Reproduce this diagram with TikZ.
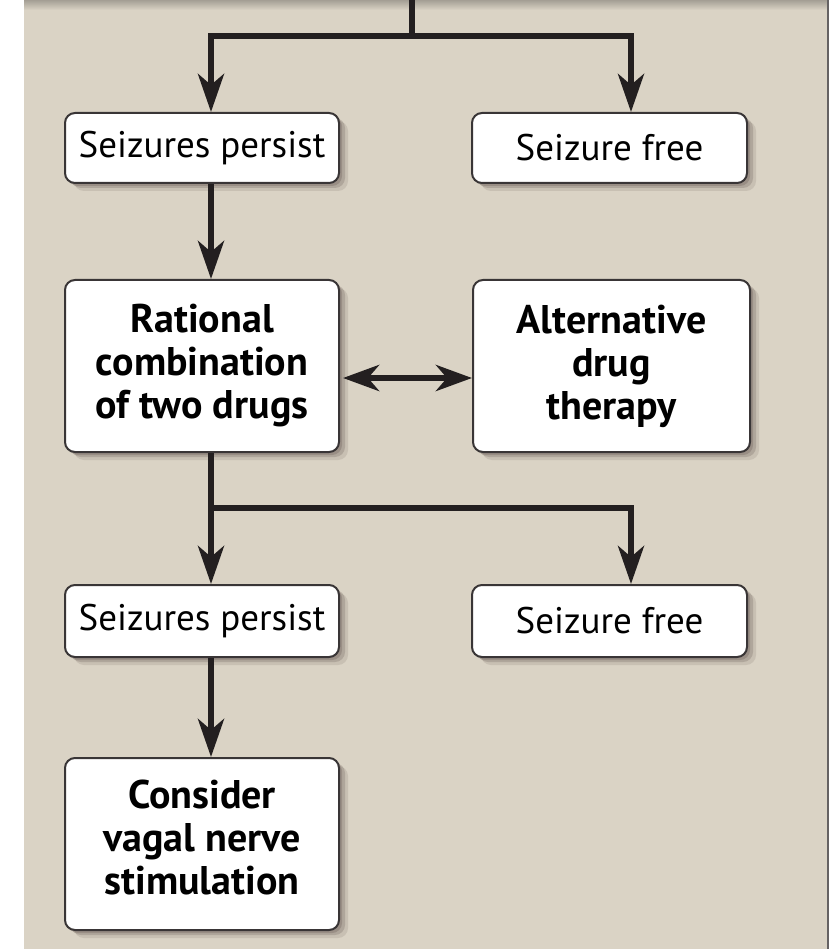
\documentclass[tikz,border=0pt]{standalone}
\usepackage{fontspec}
\setmainfont{PT Sans}
\usetikzlibrary{arrows.meta,shadows,calc}
\definecolor{bgc}{RGB}{218,211,197}
\definecolor{ink}{RGB}{35,31,32}
\definecolor{shd}{RGB}{120,108,100}
\begin{document}
\begin{tikzpicture}[x=1pt,y=-1pt,
  box/.style={draw=ink!90, line width=2pt, fill=white, rounded corners=10pt, inner sep=0pt, align=center,
    drop shadow={shadow xshift=9pt, shadow yshift=-8pt, fill=shd, opacity=0.18},
    drop shadow={shadow xshift=6pt, shadow yshift=-5pt, fill=shd, opacity=0.3},
    drop shadow={shadow xshift=3pt, shadow yshift=-3pt, fill=shd, opacity=0.4}},
  reg/.style={box, font=\fontsize{37}{44}\selectfont},
  bld/.style={box, font=\bfseries\fontsize{40}{43}\selectfont},
  conn/.style={draw=ink, line width=6pt},
  arr/.style={conn, -{Stealth[length=38pt,width=26pt,inset=11pt]}},
  darr/.style={conn, {Stealth[length=36pt,width=26pt,inset=11pt]}-{Stealth[length=36pt,width=26pt,inset=11pt]}},
]
% page and panel
\fill[white] (0,0) rectangle (833,949);
\useasboundingbox (0,0) rectangle (833,949);
\fill[bgc] (24,0) rectangle (828,949);
\shade[top color=bgc!75!black, bottom color=bgc] (24,0) rectangle (828,10);
\draw[ink!70, line width=2pt] (828,0) -- (828,949);

% boxes
\node[reg, minimum width=274pt, minimum height=70pt] (sp1) at (202,148) {Seizures persist};
\node[reg, minimum width=275pt, minimum height=70pt] (sf1) at (609.5,148) {Seizure free};
\node[bld, minimum width=274pt, minimum height=172pt] (rc) at (202,366) {Rational\\combination\\of two drugs};
\node[bld, minimum width=277pt, minimum height=172pt] (alt) at (611.5,366) {Alternative\\drug\\therapy};
\node[reg, minimum width=274pt, minimum height=72pt] (sp2) at (202,621) {Seizures persist};
\node[reg, minimum width=275pt, minimum height=72pt] (sf2) at (609.5,621) {Seizure free};
\node[bld, minimum width=274pt, minimum height=172pt] (cv) at (202,844) {Consider\\vagal nerve\\stimulation\\[-30pt]\mbox{}};

% connectors
\coordinate (t0) at (412,0);
\coordinate (j1) at (412,36);
\coordinate (j2) at (211,508);
\draw[conn] (t0) -- (j1);
\draw[arr] (j1) -| ([xshift=9pt]sp1.north);
\draw[arr] (j1) -| ([xshift=21.5pt]sf1.north);
\draw[arr] ([xshift=9pt]sp1.south) -- ([xshift=9pt]rc.north);
\draw[darr] ([xshift=3pt,yshift=-12pt]rc.east) -- ([yshift=-12pt]alt.west);
\draw[arr] ([xshift=9pt]rc.south) -- ([xshift=9pt]sp2.north);
\draw[arr] (j2) -| ([xshift=21.5pt]sf2.north);
\draw[arr] ([xshift=9pt]sp2.south) -- ([xshift=9pt]cv.north);
\end{tikzpicture}
\end{document}
